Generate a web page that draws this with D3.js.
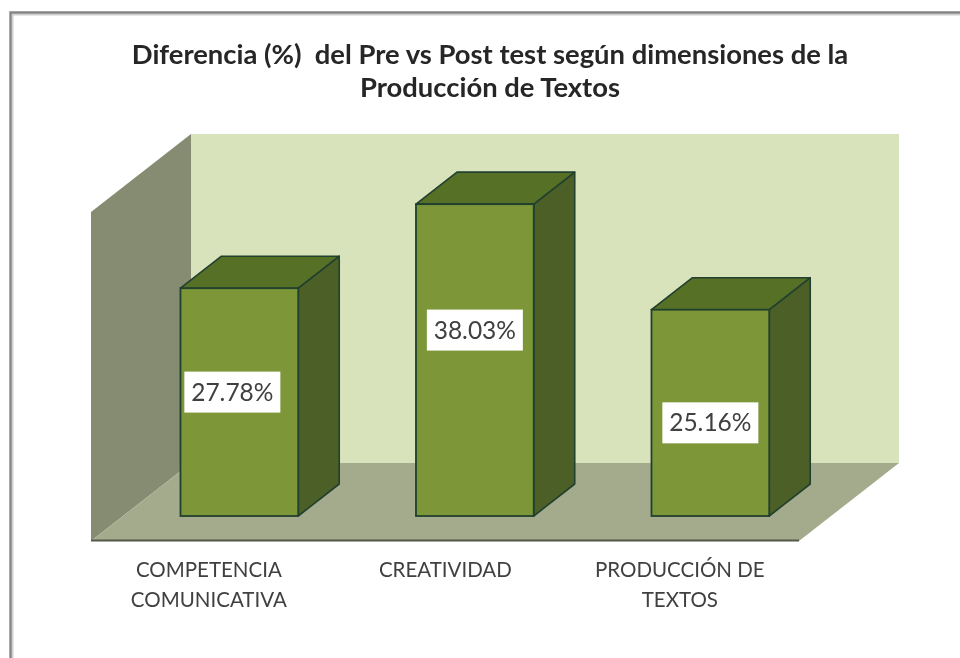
<!DOCTYPE html>
<html><head><meta charset="utf-8">
<script src="https://cdn.jsdelivr.net/npm/d3@7/dist/d3.min.js"></script>
<style>html,body{margin:0;padding:0;background:#fff}svg{display:block}</style>
</head><body><svg id="c" width="960" height="658"></svg>
<script>
const categories = ["COMPETENCIA COMUNICATIVA", "CREATIVIDAD", "PRODUCCIÓN DE TEXTOS"];
const catLines = [["COMPETENCIA", "COMUNICATIVA"], ["CREATIVIDAD"], ["PRODUCCIÓN DE", "TEXTOS"]];
const values = [27.78, 38.03, 25.16];
const titleLines = ["Diferencia (%)  del Pre vs Post test según dimensiones de la", "Producción de Textos"];

// layout nudges, separate from the data
const labelShift = [[-7, -10], [0, -30], [0, 10]];
const catShift = [-30.5, -29.5, -30.5];

const svg = d3.select("#c");
const defs = svg.append("defs");
const f = defs.append("filter").attr("id", "soft").attr("x", "-5%").attr("y", "-5%").attr("width", "110%").attr("height", "110%");
f.append("feGaussianBlur").attr("stdDeviation", 0.55);
const root = svg.append("g").attr("filter", "url(#soft)");

const x = d3.scaleBand().domain(categories).range([121.6, 828.1]).paddingInner(0.5).paddingOuter(0.25);
const y = d3.scaleLinear().domain([0, 40]).range([516, 188]);
const dx = 41, dy = -32;
const line = d3.line();

// frame
svg.append("path").attr("d", "M12.5,658V14.5H960").attr("fill", "none").attr("stroke", "#cfcfcf").attr("stroke-width", 2);
svg.append("path").attr("d", "M10.5,658V12.5H960").attr("fill", "none").attr("stroke", "#858585").attr("stroke-width", 2.4);

// walls
root.append("path").attr("d", line([[191,134],[899,134],[899,463],[191,463]])).attr("fill", "#d8e3bb");
root.append("path").attr("d", line([[91,212],[191,134],[191,463],[91,541]])).attr("fill", "#858c72");
root.append("path").attr("d", line([[91,541],[191,463],[899,463],[799,541]])).attr("fill", "#a4ab8d");
root.append("line").attr("x1", 91).attr("x2", 799).attr("y1", 540.5).attr("y2", 540.5).attr("stroke", "#55584a").attr("stroke-width", 2);

// bars
const bars = root.selectAll("g.bar").data(categories.map((c, i) => ({c, v: values[i], i}))).join("g").attr("class", "bar");
const stroke = "#22402f";
bars.append("path").attr("fill", "#4b5f25").attr("stroke", stroke).attr("stroke-width", 1.6).attr("stroke-linejoin", "round")
  .attr("d", d => { const r = x(d.c) + x.bandwidth(), t = y(d.v), b = y(0);
    return line([[r,t],[r+dx,t+dy],[r+dx,b+dy],[r,b]]) + "Z"; });
bars.append("path").attr("fill", "#566f28").attr("stroke", stroke).attr("stroke-width", 1.6).attr("stroke-linejoin", "round")
  .attr("d", d => { const l = x(d.c), r = l + x.bandwidth(), t = y(d.v);
    return line([[l,t],[l+dx,t+dy],[r+dx,t+dy],[r,t]]) + "Z"; });
bars.append("rect").attr("x", d => x(d.c)).attr("y", d => y(d.v)).attr("width", x.bandwidth()).attr("height", d => y(0) - y(d.v))
  .attr("fill", "#7b9638").attr("stroke", stroke).attr("stroke-width", 1.8);

// value labels
const labelX = d => x(d.c) + x.bandwidth() / 2 + labelShift[d.i][0];
const labelY = d => (y(0) + y(d.v)) / 2 + labelShift[d.i][1];
bars.append("rect").attr("x", d => labelX(d) - 48).attr("y", d => labelY(d) - 20.5)
  .attr("width", 96).attr("height", 41).attr("fill", "#fff");
bars.append("text").attr("x", labelX).attr("y", d => labelY(d) + 8.5)
  .attr("text-anchor", "middle").attr("font-family", "Lato").attr("font-size", 24.5).attr("fill", "#404040")
  .text(d => d.v.toFixed(2) + "%");

// category labels
catLines.forEach((ls, i) => {
  ls.forEach((s, j) => {
    root.append("text").attr("x", x(categories[i]) + x.bandwidth() / 2 + catShift[i])
      .attr("y", 577 + j * 29.5).attr("text-anchor", "middle")
      .attr("font-family", "Lato").attr("font-size", 20.5).attr("fill", "#404040").text(s);
  });
});

// title
titleLines.forEach((s, j) => {
  root.append("text").attr("x", 490).attr("y", 64 + j * 33).attr("text-anchor", "middle")
    .attr("font-family", "Lato").attr("font-weight", 700).attr("font-size", 27.4).attr("fill", "#262626")
    .attr("xml:space", "preserve").style("white-space", "pre").text(s);
});
</script></body></html>
